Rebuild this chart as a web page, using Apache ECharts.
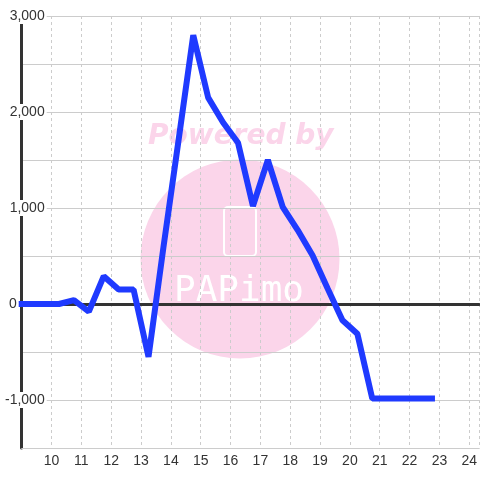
<!DOCTYPE html>
<html>
<head>
<meta charset="utf-8">
<script src="https://cdn.jsdelivr.net/npm/echarts@6/dist/echarts.min.js"></script>
<style>html,body{margin:0;padding:0;background:#fff}#c{width:480px;height:480px}</style>
</head>
<body>
<div id="c"></div>
<script>
var xValues = [9, 9.25, 9.75, 10.25, 10.75, 11.25, 11.75, 12.25, 12.75, 13.25, 13.75, 14.25, 14.75, 15.25, 15.75, 16.25, 16.75, 17.25, 17.75, 18.25, 18.75, 19.25, 19.75, 20.25, 20.75, 21.25, 21.75, 22.25, 22.75];
var yValues = [0, 0, 0, 0, 40, -80, 290, 150, 150, -550, 590, 1690, 2800, 2150, 1890, 1680, 1020, 1500, 1010, 770, 505, 165, -170, -310, -985, -985, -985, -985, -985];
var xTickLabels = [10, 11, 12, 13, 14, 15, 16, 17, 18, 19, 20, 21, 22, 23, 24];
var yTickLabels = [-1000, 0, 1000, 2000, 3000];

var FONT = 'Liberation Sans, Arial, sans-serif';
var data = xValues.map(function (x, i) { return [x, yValues[i]]; });

function fmt(v) { return v.toLocaleString('en-US'); }

var chart = echarts.init(document.getElementById('c'), null, { renderer: 'canvas' });
chart.setOption({
  animation: false,
  backgroundColor: '#fff',
  grid: { left: 20, right: 0, top: 16, bottom: 32, containLabel: false },
  graphic: [
    { type: 'circle', z: -10, shape: { cx: 240, cy: 259, r: 99.5 }, style: { fill: '#fbd5ea' }, silent: true },
    { type: 'text', z: -10, x: 148, y: 151, style: { text: 'Powered by', fill: '#fbd5ea', font: 'italic bold 28px "DejaVu Sans"', textVerticalAlign: 'bottom' }, silent: true },
    { type: 'rect', z: -9, shape: { x: 224, y: 207, width: 32, height: 49, r: 4 }, style: { fill: 'none', stroke: '#fff', lineWidth: 2 }, silent: true },
    { type: 'text', z: -9, x: 174, y: 274, style: { text: 'PAPimo', fill: '#fff', font: '36px "DejaVu Sans Mono"', textVerticalAlign: 'top' }, silent: true }
  ],
  xAxis: [
    {
      type: 'value', min: 9, max: 9 + 460 / 30, interval: 1, position: 'bottom',
      axisLine: { show: true, onZero: false, lineStyle: { color: '#ccc', width: 1 } },
      axisTick: { show: false },
      splitLine: { show: true, lineStyle: { color: '#ccc', width: 1, type: [3, 3] } },
      axisLabel: {
        margin: 6, color: '#333', fontSize: 14, fontFamily: FONT,
        showMinLabel: false, showMaxLabel: false,
        formatter: function (v) { return xTickLabels.indexOf(v) >= 0 ? String(v) : ''; }
      }
    },
    {
      type: 'value', min: 9, max: 9 + 460 / 30, position: 'top',
      axisLine: { show: true, onZero: true, lineStyle: { color: '#333', width: 3 } },
      axisTick: { show: false }, axisLabel: { show: false }, splitLine: { show: false }
    }
  ],
  yAxis: {
    type: 'value', min: -1500, max: 3000, interval: 500,
    axisLine: { show: true, onZero: false, lineStyle: { color: '#333', width: 3 } },
    axisTick: { show: false },
    splitLine: { show: true, lineStyle: { color: '#ccc', width: 1 } },
    axisLabel: {
      margin: -25, align: 'right', color: '#333', fontSize: 14, fontFamily: FONT,
      formatter: function (v) {
        if (yTickLabels.indexOf(v) < 0) return '';
        if (v === 0) return '{z|0}{s| }';
        return '{n|' + fmt(v) + '}';
      },
      rich: {
        n: { backgroundColor: '#fff', padding: [1, 2, 1, 2], color: '#333', fontSize: 14, fontFamily: FONT },
        z: { color: '#333', fontSize: 14, fontFamily: FONT },
        s: { width: 30, fontSize: 14, fontFamily: FONT }
      }
    }
  },
  series: [{
    type: 'line', xAxisIndex: 0, yAxisIndex: 0, data: data,
    symbol: 'none', showSymbol: false, clip: false,
    lineStyle: { color: '#1f3aff', width: 6, cap: 'square', join: 'bevel' }
  }]
});
</script>
</body>
</html>
